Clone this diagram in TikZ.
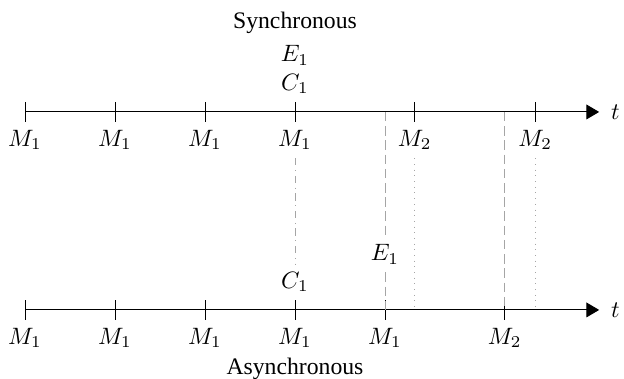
\documentclass[tikz,border=0pt]{standalone}
\usepackage{fontspec}
\setmainfont{Liberation Serif}
\usetikzlibrary{arrows.meta, positioning}
\definecolor{guidegray}{RGB}{165,165,165}

\begin{document}
\begin{tikzpicture}[x=1.335cm, y=1.335cm,
      axis/.style={-{Triangle[length=1.9mm, width=2.2mm]}},
      guide/.style={draw=guidegray, line width=0.4pt}]
    \useasboundingbox (-0.278,1.244) rectangle (6.656,-2.967);
    % synchronous time line
    \draw[axis] (0,0) -- (6.38,0) node[right, xshift=1.5pt] (st) {$t$};
    \foreach \x/\n [count=\i] in {0/1,1/1,2/1,3/1,4.33/2,5.67/2} {
      \coordinate (sa\i) at (\x,0);
      \draw (\x,0.11) coordinate (sk\i) -- (\x,-0.11) node[below] (s\i) {$M_\n$};
    }
    \node[above, align=center] (sec) at (sk4) {$E_1$\\$C_1$};
    \node[above=-2pt of sec] (sync) {Synchronous};
    % asynchronous time line
    \draw[axis] (0,-2.2) -- (6.38,-2.2) node[right, xshift=1.5pt] (at) {$t$};
    \foreach \x/\n [count=\i] in {0/1,1/1,2/1,3/1,4/1,5.33/2} {
      \coordinate (aa\i) at (\x,-2.2);
      \draw (\x,-2.09) coordinate (ak\i) -- (\x,-2.31) node[below] (a\i) {$M_\n$};
    }
    \node[above] (ac) at (ak4) {$C_1$};
    \node (ae) at (4,-1.58) {$E_1$};
    \node[below=-3pt of a4] (async) {Asynchronous};
    % guides between the two lines
    \coordinate (d1) at (4,0);
    \coordinate (d2) at (5.33,0);
    \draw[guide, dashdotted] (s4) -- (ac);
    \draw[guide, dash pattern=on 4pt off 2pt] (d1) -- (ae) -- (aa5);
    \draw[guide, dash pattern=on 4pt off 2pt] (d2) -- (aa6);
    \draw[guide, dotted] (s5) -- (4.33,-2.2);
    \draw[guide, dotted] (s6) -- (5.67,-2.2);
  \end{tikzpicture}
\end{document}
